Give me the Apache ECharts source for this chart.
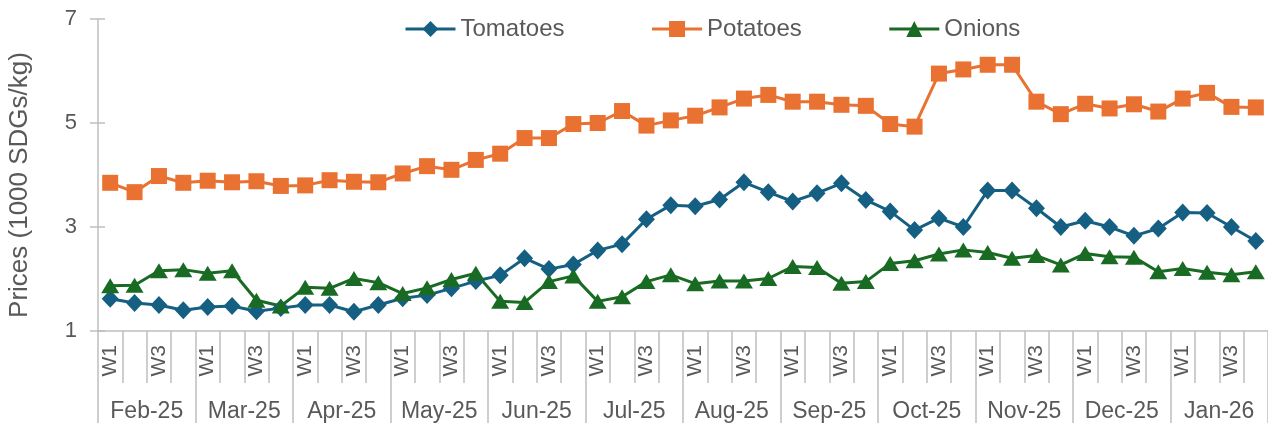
<!DOCTYPE html>
<html>
<head>
<meta charset="utf-8">
<script src="https://cdn.jsdelivr.net/npm/echarts@6/dist/echarts.min.js"></script>
<style>
	html, body { margin: 0; padding: 0; background: #fff; }
	#chart { width: 1268px; height: 423px; }
</style>
</head>
<body>
<div id="chart"></div>
<script>
var months = ['Feb-25', 'Mar-25', 'Apr-25', 'May-25', 'Jun-25', 'Jul-25', 'Aug-25', 'Sep-25', 'Oct-25', 'Nov-25', 'Dec-25', 'Jan-26'];
var weekNames = ['W1', 'W2', 'W3', 'W4'];

var tomatoes = [1.62, 1.54, 1.50, 1.40, 1.46, 1.48, 1.38, 1.44, 1.50, 1.50, 1.37, 1.50,
	1.63, 1.69, 1.82, 1.96, 2.07, 2.40, 2.19, 2.28, 2.55, 2.67, 3.15, 3.42,
	3.40, 3.53, 3.86, 3.67, 3.49, 3.65, 3.84, 3.52, 3.30, 2.94, 3.17, 3.00,
	3.70, 3.70, 3.36, 3.00, 3.12, 3.00, 2.83, 2.97, 3.28, 3.27, 3.00, 2.73];
var potatoes = [3.85, 3.67, 3.98, 3.85, 3.89, 3.86, 3.88, 3.79, 3.80, 3.90, 3.87, 3.86,
	4.03, 4.17, 4.10, 4.29, 4.41, 4.71, 4.71, 4.98, 5.00, 5.23, 4.95, 5.05,
	5.14, 5.30, 5.47, 5.54, 5.41, 5.41, 5.35, 5.33, 4.98, 4.93, 5.95, 6.03,
	6.12, 6.12, 5.41, 5.17, 5.37, 5.28, 5.36, 5.22, 5.47, 5.58, 5.31, 5.30];
var onions = [1.87, 1.88, 2.16, 2.18, 2.11, 2.16, 1.59, 1.48, 1.84, 1.82, 2.01, 1.93,
	1.72, 1.83, 1.99, 2.11, 1.57, 1.55, 1.95, 2.06, 1.57, 1.66, 1.95, 2.08,
	1.91, 1.96, 1.96, 2.01, 2.24, 2.22, 1.92, 1.95, 2.30, 2.35, 2.48, 2.56,
	2.51, 2.40, 2.45, 2.27, 2.49, 2.43, 2.42, 2.14, 2.20, 2.13, 2.08, 2.14];

var textColor = '#595959';
var lineGray = '#bfbfbf';
var fontFam = '"Liberation Sans", Arial, sans-serif';

// one category per week, named "Feb-25|W1" so they stay unique
var weekCats = [];
for(var m=0; m<months.length; m++){
	for(var w=0; w<weekNames.length; w++){
		weekCats.push(months[m] + '|' + weekNames[w]);
	}
}

function makeSeries(name, data, color, symbol, size){
	return {
		name: name,
		type: 'line',
		data: data,
		symbol: symbol,
		symbolSize: size,
		showAllSymbol: true,
		color: color,
		lineStyle: { width: 3, color: color },
		itemStyle: { color: color },
		emphasis: { disabled: true },
		animation: false
	};
}

var chart = echarts.init(document.getElementById('chart'));

var options = {
	textStyle: { fontFamily: fontFam },
	legend: {
		top: 12,
		left: 399,
		itemWidth: 50,
		itemHeight: 20,
		itemGap: 86,
		lineStyle: { width: 3 },
		textStyle: { fontSize: 24, color: textColor, fontFamily: fontFam },
		data: ['Tomatoes', 'Potatoes', 'Onions']
	},
	grid: {
		left: 98,
		right: 0,
		top: 19,
		bottom: 92,
		containLabel: false,
		outerBoundsMode: 'none'
	},
	xAxis: [{
		type: 'category',
		data: weekCats,
		boundaryGap: true,
		axisLine: { show: true, lineStyle: { color: lineGray, width: 1.5 } },
		axisTick: { show: true, interval: 0, length: 52, lineStyle: { color: lineGray, width: 1.5 } },
		axisLabel: {
			interval: 1,
			rotate: 90,
			margin: 14,
			fontSize: 21,
			color: textColor,
			fontFamily: fontFam,
			formatter: function(v){ return v.split('|')[1]; }
		}
	}, {
		type: 'category',
		data: months,
		position: 'bottom',
		boundaryGap: true,
		axisLine: { show: false },
		axisTick: { show: true, interval: 0, length: 92, lineStyle: { color: lineGray, width: 1.5 } },
		axisLabel: {
			interval: 0,
			margin: 69,
			fontSize: 23,
			color: textColor,
			fontFamily: fontFam
		}
	}],
	yAxis: [{
		type: 'value',
		min: 1,
		max: 7,
		interval: 2,
		name: 'Prices (1000 SDGs/kg)',
		nameLocation: 'middle',
		nameGap: 65,
		nameTextStyle: { fontSize: 26, color: textColor, fontFamily: fontFam, padding: [0, 20, 0, 0] },
		splitLine: { show: false },
		axisLine: { show: true, lineStyle: { color: lineGray, width: 1.5 } },
		axisTick: { show: true, length: 8, lineStyle: { color: lineGray, width: 1.5 } },
		axisLabel: { margin: 21, fontSize: 22, color: textColor, fontFamily: fontFam }
	}, {
		// second copy only for the inner half of the crossing ticks
		type: 'value',
		min: 1,
		max: 7,
		interval: 2,
		position: 'left',
		offset: 0,
		splitLine: { show: false },
		axisLine: { show: false },
		axisLabel: { show: false },
		axisTick: { show: true, inside: true, length: 7, lineStyle: { color: lineGray, width: 1.5 } }
	}],
	series: [
		makeSeries('Tomatoes', tomatoes, '#156082', 'diamond', [17, 18]),
		makeSeries('Potatoes', potatoes, '#E97132', 'rect', 16),
		makeSeries('Onions', onions, '#196B24', 'triangle', [18, 15])
	]
};

chart.setOption(options);
</script>
</body>
</html>
